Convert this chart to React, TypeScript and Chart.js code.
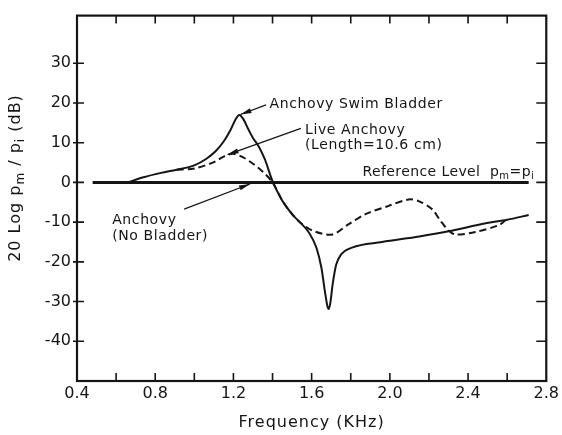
import { useEffect, useRef } from 'react';
import { Chart, registerables } from 'chart.js';

Chart.register(...registerables);

// ---- data (frequency in kHz, level in dB) ----
const swimBladderFreq = [0.66, 0.74, 0.83, 0.91, 1.0, 1.06, 1.11, 1.15, 1.185, 1.21, 1.23, 1.25, 1.275, 1.3, 1.33, 1.36, 1.4, 1.45, 1.5, 1.535, 1.586, 1.625, 1.65, 1.668, 1.68, 1.687, 1.695, 1.708, 1.725, 1.75, 1.807, 1.96, 2.15, 2.3, 2.49, 2.6, 2.71];
const swimBladderDb = [0, 1.3, 2.4, 3.2, 4.3, 5.9, 7.9, 10.3, 13.2, 15.8, 17, 16.0, 13.5, 11.2, 9.0, 5.9, 0.3, -4.6, -8, -9.8, -12.6, -16.5, -21.5, -27.5, -31, -31.9, -30.5, -25.5, -20.8, -18.2, -16.4, -15, -13.6, -12.3, -10.3, -9.4, -8.2];

const liveFreq = [0.91, 1.0, 1.1, 1.15, 1.2, 1.25, 1.3, 1.35, 1.4, 1.45, 1.5, 1.535, 1.603, 1.705, 1.79, 1.875, 1.994, 2.096, 2.147, 2.215, 2.258, 2.3, 2.335, 2.437, 2.556, 2.59];
const liveDb = [3.2, 3.5, 5.1, 6.5, 7.2, 6.3, 4.7, 2.7, 0, -4.6, -8, -9.8, -12.1, -13.1, -10.5, -8, -5.9, -4.3, -4.7, -6.7, -9.6, -12.1, -13.1, -12.5, -10.8, -9.6];

const referenceFreq = [0.48, 2.71];
const referenceDb = [0, 0];

const xLabelTicks = [0.4, 0.8, 1.2, 1.6, 2.0, 2.4, 2.8];
const xMinorTicks = [0.6, 0.8, 1.0, 1.2, 1.4, 1.6, 1.8, 2.0, 2.2, 2.4, 2.6];
const yTicks = [-40, -30, -20, -10, 0, 10, 20, 30];
const xRange = [0.4, 2.8];
const yRange = [-50, 42];

const INK = '#151515';
const FONT = "'DejaVu Sans', sans-serif";

type Run = { t: string; sub?: boolean };

function drawRuns(ctx: CanvasRenderingContext2D, runs: Run[], x: number, y: number, size: number) {
  let cx = x;
  for (const r of runs) {
    const s = r.sub ? Math.round(size * 0.72) : size;
    ctx.font = `${s}px ${FONT}`;
    ctx.fillText(r.t, cx, r.sub ? y + size * 0.3 : y);
    cx += ctx.measureText(r.t).width;
  }
  return cx - x;
}

function measureRuns(ctx: CanvasRenderingContext2D, runs: Run[], size: number) {
  let w = 0;
  for (const r of runs) {
    const s = r.sub ? Math.round(size * 0.72) : size;
    ctx.font = `${s}px ${FONT}`;
    w += ctx.measureText(r.t).width;
  }
  return w;
}

function arrow(ctx: CanvasRenderingContext2D, x1: number, y1: number, x2: number, y2: number) {
  ctx.beginPath();
  ctx.moveTo(x1, y1);
  ctx.lineTo(x2, y2);
  ctx.lineWidth = 1.3;
  ctx.stroke();
  const a = Math.atan2(y2 - y1, x2 - x1);
  const L = 11, W = 2.6;
  const bx = x2 - L * Math.cos(a), by = y2 - L * Math.sin(a);
  ctx.beginPath();
  ctx.moveTo(x2, y2);
  ctx.lineTo(bx + W * Math.sin(a), by - W * Math.cos(a));
  ctx.lineTo(bx - W * Math.sin(a), by + W * Math.cos(a));
  ctx.closePath();
  ctx.fill();
}

const decorPlugin = {
  id: 'decor',
  afterDatasetsDraw(chart: any) {
    const { ctx, chartArea: a, scales } = chart;
    const xs = scales.x, ys = scales.y;
    const px = (v: number) => xs.getPixelForValue(v);
    const py = (v: number) => ys.getPixelForValue(v);
    ctx.save();
    ctx.strokeStyle = INK;
    ctx.fillStyle = INK;
    ctx.lineCap = 'butt';
    // frame
    ctx.lineWidth = 2.2;
    ctx.strokeRect(a.left, a.top, a.right - a.left, a.bottom - a.top);
    // x ticks (top & bottom, inward)
    ctx.lineWidth = 1.6;
    for (const v of xMinorTicks) {
      const x = px(v);
      ctx.beginPath();
      ctx.moveTo(x, a.bottom); ctx.lineTo(x, a.bottom - 8);
      ctx.moveTo(x, a.top); ctx.lineTo(x, a.top + 8);
      ctx.stroke();
    }
    // y ticks
    for (const v of yTicks) {
      const y = py(v);
      ctx.beginPath();
      ctx.moveTo(a.left - 4, y); ctx.lineTo(a.left + 7, y);
      ctx.moveTo(a.right, y); ctx.lineTo(a.right - 10, y);
      ctx.stroke();
    }
    // axis titles
    (ctx as any).letterSpacing = '1px';
    ctx.textBaseline = 'middle';
    ctx.font = `16px ${FONT}`;
    ctx.textAlign = 'center';
    ctx.fillText('Frequency (KHz)', (a.left + a.right) / 2, 423);
    ctx.textAlign = 'left';
    const yTitle: Run[] = [{ t: '20 Log p' }, { t: 'm', sub: true }, { t: ' / p' }, { t: 'i', sub: true }, { t: ' (dB)' }];
    const tw = measureRuns(ctx, yTitle, 16);
    ctx.save();
    ctx.translate(16, 178);
    ctx.rotate(-Math.PI / 2);
    drawRuns(ctx, yTitle, -tw / 2, 0, 16);
    ctx.restore();

    // annotations
    (ctx as any).letterSpacing = '0.6px';
    ctx.font = `14px ${FONT}`;
    ctx.textAlign = 'left';
    ctx.fillText('Anchovy Swim Bladder', px(1.385), py(19.75));
    ctx.fillText('Live Anchovy', px(1.566), py(13.1));
    ctx.fillText('(Length=10.6 cm)', px(1.566), py(9.3));
    ctx.fillText('Anchovy', px(0.58), py(-9.6));
    ctx.fillText('(No Bladder)', px(0.58), py(-13.5));
    (ctx as any).letterSpacing = '0.4px';
    drawRuns(ctx, [{ t: 'Reference Level  p' }, { t: 'm', sub: true }, { t: '=p' }, { t: 'i', sub: true }], px(1.86), py(2.5), 14);

    (ctx as any).letterSpacing = '0px';
    arrow(ctx, px(1.367), py(19.5), px(1.236), py(17.1));
    arrow(ctx, px(1.545), py(13.6), px(1.17), py(7.0));
    arrow(ctx, px(0.948), py(-6.7), px(1.285), py(-0.4));
    ctx.restore();
  },
};

export default function App() {
  const ref = useRef<HTMLCanvasElement | null>(null);
  useEffect(() => {
    if (!ref.current) return;
    const chart = new Chart(ref.current, {
      type: 'line',
      data: {
        datasets: [
          {
            label: 'Anchovy Swim Bladder',
            data: swimBladderFreq.map((f, i) => ({ x: f, y: swimBladderDb[i] })),
            borderColor: INK,
            borderWidth: 2,
            pointRadius: 0,
            cubicInterpolationMode: 'monotone',
          },
          {
            label: 'Live Anchovy',
            data: liveFreq.map((f, i) => ({ x: f, y: liveDb[i] })),
            borderColor: INK,
            borderWidth: 2,
            borderDash: [7, 4],
            pointRadius: 0,
            tension: 0.3,
          },
          {
            label: 'Reference Level',
            data: referenceFreq.map((f, i) => ({ x: f, y: referenceDb[i] })),
            borderColor: INK,
            borderWidth: 3,
            pointRadius: 0,
            tension: 0,
          },
        ],
      },
      options: {
        animation: false,
        responsive: false,
        devicePixelRatio: 1,
        layout: { padding: { left: 0, top: 10, right: 14, bottom: 0 } },
        plugins: { legend: { display: false }, tooltip: { enabled: false } },
        scales: {
          x: {
            type: 'linear',
            min: xRange[0],
            max: xRange[1],
            grid: { display: false, drawTicks: false, tickLength: 0 },
            border: { display: false },
            afterBuildTicks: (s: any) => { s.ticks = xLabelTicks.map((v) => ({ value: v })); },
            afterFit: (s: any) => { s.height = 54; },
            ticks: {
              autoSkip: false,
              maxRotation: 0,
              padding: 3,
              color: INK,
              font: { family: FONT, size: 16 },
              callback: (v: any) => Number(v).toFixed(1),
            },
          },
          y: {
            type: 'linear',
            min: yRange[0],
            max: yRange[1],
            grid: { display: false, drawTicks: false, tickLength: 0 },
            border: { display: false },
            afterBuildTicks: (s: any) => { s.ticks = yTicks.map((v) => ({ value: v })); },
            afterFit: (s: any) => { s.width = 77; },
            ticks: {
              autoSkip: false,
              padding: 6,
              color: INK,
              font: { family: FONT, size: 16 },
              callback: (v: any) => String(v),
            },
          },
        },
      },
      plugins: [decorPlugin],
    } as any);
    return () => chart.destroy();
  }, []);
  return (
    <div style={{ position: 'fixed', left: 0, top: 0, width: 562, height: 435, background: '#fff' }}>
      <canvas ref={ref} width={562} height={435} style={{ display: 'block' }} />
    </div>
  );
}
